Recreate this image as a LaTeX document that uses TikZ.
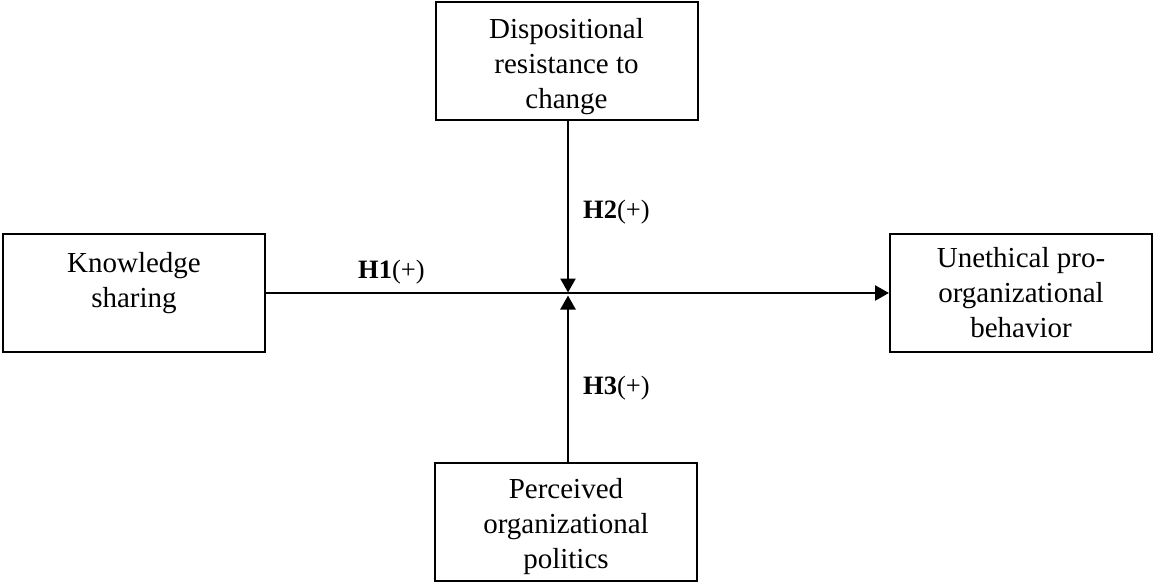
\documentclass[tikz,border=0pt]{standalone}
\usepackage{fontspec}
\setmainfont{Liberation Serif}
\usetikzlibrary{arrows.meta}

\begin{document}
\begin{tikzpicture}[x=1pt,y=-1pt,
    varbox/.style={draw,line width=2pt,minimum width=262pt,minimum height=118pt,
        align=center,font=\fontsize{29}{35}\selectfont,inner sep=0pt},
    hyp/.style={font=\fontsize{26.5}{31}\selectfont,inner sep=0pt},
    link/.style={line width=2.6pt,-{Triangle[length=14pt,width=15pt]}}]
                \useasboundingbox (0,0) rectangle (1154,583);
                \node[varbox,text height=96pt,text depth=0pt] (drc) at (566.5,61) {Dispositional\\resistance to\\change};
                \node[varbox,text height=28pt,text depth=0pt] (ks) at (134,293) {Knowledge\\sharing};
                \node[varbox] (ub) at (1021,293) {Unethical pro-\\organizational\\behavior};
                \node[varbox,text height=92pt,text depth=0pt] (pop) at (566,522) {Perceived\\organizational\\politics};
                \coordinate (mid) at (568,294);
                \draw[link] (ks.east) -- (ub.west);
                \draw[link,shorten >=1.5pt] (drc.south -| mid) -- (mid);
                \draw[link,shorten >=1.5pt] (pop.north -| mid) -- (mid);
                \node[hyp,anchor=west] (h1) at (358,272) {\textbf{H1}(+)};
                \node[hyp,anchor=west] (h2) at (583,212) {\textbf{H2}(+)};
                \node[hyp,anchor=west] (h3) at (583,388) {\textbf{H3}(+)};
            \end{tikzpicture}
\end{document}
